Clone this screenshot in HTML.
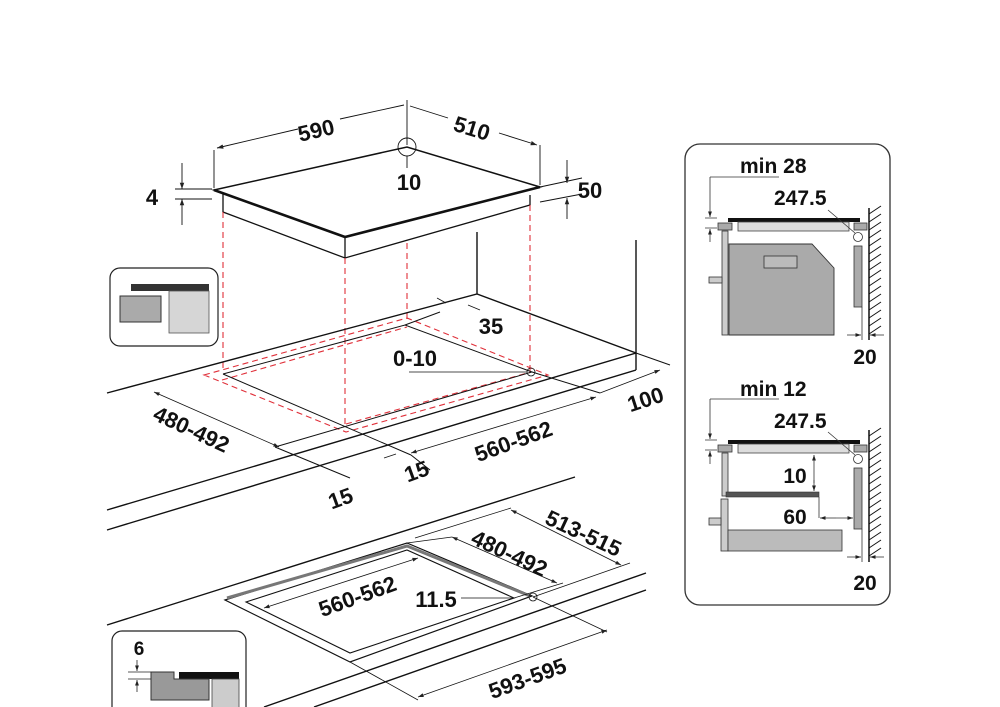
<!DOCTYPE html>
<html><head><meta charset="utf-8"><style>
html,body{margin:0;padding:0;background:#fff;}
svg{display:block}
text{font-family:"Liberation Sans",sans-serif;font-weight:bold;fill:#111;}
</style></head><body>
<svg width="1000" height="707" viewBox="0 0 1000 707" xmlns="http://www.w3.org/2000/svg">
<defs>
<marker id="a" viewBox="0 0 10 10" refX="10" refY="5" markerWidth="7" markerHeight="7" orient="auto-start-reverse"><path d="M0,1.5 L10,5 L0,8.5z" fill="#222"/></marker>
</defs>
<rect width="1000" height="707" fill="#fff"/>
<g stroke="#111" fill="none" stroke-width="1.3">
<polygon points="214,190 407,147 540,187 345,237" fill="#fff" stroke-width="1.5"/>
<path d="M214,190 L345,237 L540,187" stroke-width="2.6"/>
<path d="M223,193 V212 L345,258 L530,205 V195"/>
<path d="M345,238 V258"/>
<g stroke-width="0.9">
<path d="M214,188 V150 M540,185 V145 M407,145 V100"/>
<path d="M217,148 L298,129 M340,119 L404,105" marker-start="url(#a)"/>
<path d="M410,106 L448,118 M499,133 L537,145" marker-end="url(#a)"/>
<circle cx="407" cy="147" r="9"/>
<path d="M407,156 V168"/>
<path d="M175,189 H212 M175,199 H212"/>
<path d="M182,163 V189" marker-end="url(#a)"/><path d="M182,225 V199" marker-end="url(#a)"/>
<path d="M540,187 L582,178 M540,202 L582,194"/>
<path d="M567,160 V183" marker-end="url(#a)"/><path d="M567,219 V198" marker-end="url(#a)"/>
</g>
</g>
<g font-size="22">
<text x="316" y="138" text-anchor="middle" transform="rotate(-13 316 130)">590</text>
<text x="472" y="136" text-anchor="middle" transform="rotate(17 472 128)">510</text>
<text x="409" y="190" text-anchor="middle">10</text>
<text x="152" y="205" text-anchor="middle">4</text>
<text x="590" y="198" text-anchor="middle">50</text>
</g>
<g stroke="#e0303a" stroke-width="1.1" stroke-dasharray="6,4" fill="none">
<path d="M223,212 V372 M345,258 V428 M407,243 V322 M530,205 V372"/>
<polygon points="204,375 407,318 548,375 346,432"/>
<path d="M222,380 L407,327 M346,424 L531,372"/>
</g>
<rect x="110" y="268" width="108" height="78" rx="10" fill="#fff" stroke="#222" stroke-width="1.2"/>
<rect x="131" y="284" width="78" height="7" fill="#333"/>
<rect x="169" y="291" width="40" height="42" fill="#d6d6d6" stroke="#555" stroke-width="0.8"/>
<rect x="120" y="296" width="41" height="26" fill="#aaa" stroke="#333" stroke-width="1"/>
<g stroke="#111" fill="none" stroke-width="1.4">
<path d="M477,232 V294 M107,393 L477,294 L636,353 M636,240 V370 M107,510 L636,353 M107,530 L636,370"/>
<g stroke-width="1">
<path d="M223,374 L405,325 L532,372 L275,447 M223,374 L411,455"/>
<path d="M405,325 L440,312 M532,372 L600,393 M411,455 L430,470 M275,447 L350,478 M636,353 L670,365"/>
</g>
<g stroke-width="0.8">
<path d="M154,392 L279,447" marker-start="url(#a)" marker-end="url(#a)"/>
<path d="M411,453 L596,397" marker-start="url(#a)" marker-end="url(#a)"/>
<path d="M600,393 L660,370" marker-end="url(#a)"/>
<path d="M437,298 L446,303" /><path d="M468,305 L480,310"/>
<path d="M384,458 L396,454"/>
<path d="M409,372 H527"/>
<circle cx="531" cy="372" r="4"/>
</g>
</g>
<g font-size="22">
<text x="192" y="437" text-anchor="middle" transform="rotate(25 192 428)">480-492</text>
<text x="513" y="449" text-anchor="middle" transform="rotate(-20 513 440)">560-562</text>
<text x="645" y="407" text-anchor="middle" transform="rotate(-18 645 398)">100</text>
<text x="416" y="479" text-anchor="middle" transform="rotate(-20 416 470)">15</text>
<text x="340" y="506" text-anchor="middle" transform="rotate(-20 340 497)">15</text>
<text x="491" y="334" text-anchor="middle">35</text>
<text x="415" y="366" text-anchor="middle">0-10</text>
</g>
<g stroke="#111" fill="none" stroke-width="1.4">
<path d="M107,625 L575,477 M264,707 L646,573 M314,707 L646,590"/>
<polygon points="225,600 407,543 532,596 350,662" stroke-width="1.2"/>
<path d="M227,598 L407,546 L530,596" stroke="#777" stroke-width="3"/>
<polygon points="246,602 407,550 514,598 350,653" stroke-width="1.1"/>
<g stroke-width="0.8">
<circle cx="533" cy="597" r="4"/>
<path d="M461,598 H514"/>
<path d="M264,608 L418,558" marker-start="url(#a)" marker-end="url(#a)"/>
<path d="M407,543 L452,537 M514,598 L563,583"/>
<path d="M452,537 L557,583" marker-start="url(#a)" marker-end="url(#a)"/>
<path d="M415,538 L511,508 M533,597 L630,563"/>
<path d="M511,510 L621,565" marker-start="url(#a)" marker-end="url(#a)"/>
<path d="M350,662 L418,700 M533,597 L607,632"/>
<path d="M418,697 L607,630" marker-start="url(#a)" marker-end="url(#a)"/>
</g>
</g>
<g font-size="22">
<text x="357" y="604" text-anchor="middle" transform="rotate(-20 357 595)">560-562</text>
<text x="436" y="607" text-anchor="middle">11.5</text>
<text x="510" y="561" text-anchor="middle" transform="rotate(25 510 552)">480-492</text>
<text x="584" y="541" text-anchor="middle" transform="rotate(25 584 532)">513-515</text>
<text x="527" y="686" text-anchor="middle" transform="rotate(-20 527 677)">593-595</text>
</g>
<rect x="112" y="631" width="134" height="90" rx="10" fill="#fff" stroke="#222" stroke-width="1.2"/>
<rect x="179" y="672" width="60" height="7" fill="#111"/>
<rect x="212" y="679" width="27" height="30" fill="#ccc" stroke="#444" stroke-width="0.8"/>
<path d="M151,672 H174 V679 H209 V700 H151z" fill="#999" stroke="#333" stroke-width="1"/>
<g stroke="#222" stroke-width="0.8" fill="none"><path d="M128,672 H151 M128,679 H151"/>
<path d="M137,660 V671" marker-end="url(#a)"/><path d="M137,692 V680" marker-end="url(#a)"/></g>
<text x="139" y="655" font-size="19" text-anchor="middle">6</text>
<rect x="685" y="144" width="205" height="461" rx="15" fill="#fff" stroke="#333" stroke-width="1.3"/>
<g id="sec">
<rect x="728" y="218" width="132" height="4" fill="#111"/>
<rect x="718" y="223" width="14" height="7" fill="#aaa" stroke="#333" stroke-width="0.8"/>
<rect x="738" y="222" width="111" height="9" fill="#ddd" stroke="#444" stroke-width="0.8"/>
<rect x="854" y="223" width="13" height="7" fill="#aaa" stroke="#333" stroke-width="0.8"/>
<circle cx="858" cy="237" r="4.5" fill="#fff" stroke="#333" stroke-width="0.8"/>
<path d="M869,208 V340" stroke="#111" stroke-width="1.5"/>
<path d="M869,214 l12,-8 M869,222 l12,-8 M869,230 l12,-8 M869,238 l12,-8 M869,246 l12,-8 M869,254 l12,-8 M869,262 l12,-8 M869,270 l12,-8 M869,278 l12,-8 M869,286 l12,-8 M869,294 l12,-8 M869,302 l12,-8 M869,310 l12,-8 M869,318 l12,-8 M869,326 l12,-8 M869,334 l12,-8" stroke="#111" stroke-width="1"/>
<g stroke="#333" stroke-width="0.8" fill="none">
<path d="M705,218 H717 M705,228 H717"/>
<path d="M710,177 H779 M710,177 V217" marker-end="url(#a)"/>
<path d="M710,242 V229" marker-end="url(#a)"/>
<path d="M828,210 L855,233"/>
<path d="M862,307 V340"/>
<path d="M847,335 H861" marker-end="url(#a)"/><path d="M884,335 H870" marker-end="url(#a)"/>
</g>
<rect x="854" y="246" width="8" height="61" fill="#aaa" stroke="#333" stroke-width="0.8"/>
</g>
<use href="#sec" y="222"/>
<rect x="722" y="231" width="6" height="104" fill="#ccc" stroke="#333" stroke-width="0.8"/>
<rect x="709" y="277" width="13" height="6" fill="#ccc" stroke="#333" stroke-width="0.8"/>
<path d="M729,244 H812 L834,268 V335 H729z" fill="#aaa" stroke="#333" stroke-width="0.9"/>
<rect x="764" y="256" width="33" height="12" fill="#bbb" stroke="#333" stroke-width="0.8"/>
<rect x="722" y="453" width="6" height="43" fill="#ccc" stroke="#333" stroke-width="0.8"/>
<rect x="726" y="492" width="93" height="5" fill="#555" stroke="#333" stroke-width="0.6"/>
<rect x="721" y="499" width="7" height="52" fill="#ccc" stroke="#333" stroke-width="0.8"/>
<rect x="709" y="518" width="12" height="7" fill="#ccc" stroke="#333" stroke-width="0.8"/>
<rect x="728" y="530" width="114" height="21" fill="#bbb" stroke="#333" stroke-width="0.8"/>
<g stroke="#333" stroke-width="0.8" fill="none">
<path d="M814,483 V455" marker-end="url(#a)"/><path d="M814,480 V491" marker-end="url(#a)"/>
<path d="M819,497 V518"/>
<path d="M836,518 H820" marker-end="url(#a)"/><path d="M836,518 H853" marker-end="url(#a)"/>
</g>
<g font-size="21">
<text x="740" y="173">min 28</text>
<text x="774" y="205">247.5</text>
<text x="865" y="364" text-anchor="middle">20</text>
<text x="740" y="396">min 12</text>
<text x="774" y="428">247.5</text>
<text x="795" y="483" text-anchor="middle">10</text>
<text x="795" y="524" text-anchor="middle">60</text>
<text x="865" y="590" text-anchor="middle">20</text>
</g>
</svg>
</body></html>
